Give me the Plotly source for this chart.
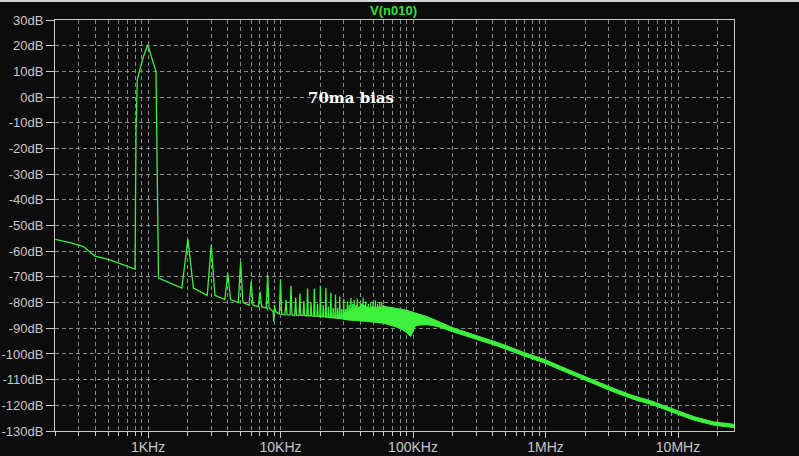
import plotly.graph_objects as go

# ---------------- data ----------------
# low-frequency skirt below the fundamental (Hz, dB)
skirt_hz = [200, 258, 325, 398, 502, 798]
skirt_db = [-55.4, -56.7, -58.2, -61.9, -63.2, -67.0]

# fundamental lobe around 1 kHz (Hz, dB)
fund_hz = [812, 830, 860, 922, 995, 1066, 1149, 1163, 1185, 1200]
fund_db = [-12.8, 6.6, 9.9, 15.7, 20.3, 15.7, 9.9, -12.5, -51.7, -70.5]

# harmonics (kHz), their peak level and the floor level next to them (dB)
harm_khz = list(range(2, 61))
harm_peak_db = [-55.3, -57.6, -68.6, -64.1, -71.9, -75.7, -69.3, -81.0, -71.0,
                -79.0, -73.5, -78.0, -76.5, -79.5, -74.5, -80.0, -74.6, -80.5,
                -73.5, -81.0, -74.2, -81.5, -76.2, -82.0, -77.0, -82.0, -77.6,
                -82.5, -78.5, -82.5, -79.5, -81.0, -78.2, -80.5, -79.0, -81.0,
                -78.5, -81.5, -80.0, -80.5, -78.0, -81.0, -79.5, -81.5, -80.5,
                -82.0, -80.0, -81.5, -79.5, -81.5, -79.2, -82.0, -80.5, -82.0,
                -80.0, -82.5, -79.8, -82.5, -81.0]
harm_floor_db = [-74.4, -77.2, -78.8, -80.0, -81.0, -81.6, -82.2, -83.5, -84.5,
                 -84.8, -84.8, -85.0, -85.0, -85.0, -85.2, -85.2, -85.3, -85.3,
                 -85.5, -85.5, -85.6, -85.7, -85.8, -85.9, -86.0, -86.1, -86.2,
                 -86.3, -86.4, -86.5, -86.6, -86.6, -86.7, -86.7, -86.8, -86.8,
                 -86.9, -86.9, -87.0, -87.0, -87.1, -87.1, -87.2, -87.2, -87.3,
                 -87.3, -87.4, -87.4, -87.5, -87.5, -87.6, -87.6, -87.7, -87.7,
                 -87.8, -87.8, -87.9, -87.9, -88.0]
harm_halfwidth_khz = 0.2

# notch near 9 kHz (Hz, dB)
notch_hz = [8900]
notch_db = [-87.5]

# dense region and high-frequency roll-off: upper / lower envelope (kHz, dB)
band_khz = [30, 40, 50, 60, 70, 80, 90, 96, 104, 110, 125, 140, 160, 200, 300,
            450, 680, 1000, 1440, 2050, 3230, 4570, 6470, 9160, 13000, 18400, 26500]
band_upper_db = [-84.0, -82.5, -82.0, -81.5, -82.0, -82.5, -83.0, -83.5, -84.0,
                 -84.5, -85.3, -86.3, -87.5, -89.8, -92.8, -95.8, -99.3, -102.3,
                 -105.8, -109.1, -113.3, -116.2, -118.5, -121.4, -124.3, -126.4, -127.4]
band_lower_db = [-86.6, -87.0, -87.5, -88.0, -89.0, -90.0, -91.8, -93.3, -89.2,
                 -88.8, -88.6, -88.9, -89.6, -91.4, -94.3, -97.2, -100.7, -103.7,
                 -107.2, -110.5, -114.7, -117.6, -119.9, -122.8, -125.7, -127.7, -128.7]

y_ticks = list(range(-130, 31, 10))
y_ticktext = [f"{v}dB" for v in y_ticks]
x_ticks = [1e3, 1e4, 1e5, 1e6, 1e7]
x_ticktext = ["1KHz", "10KHz", "100KHz", "1MHz", "10MHz"]

title_text = "V(n010)"
note_text = "70ma bias"

# ---------------- build traces ----------------
GREEN = "#3cf03c"
BG = "#0c0c0c"
GRID = "#8a8a8a"
AXIS = "#c8c8c8"

pts = list(zip(skirt_hz, skirt_db)) + list(zip(fund_hz, fund_db)) + list(zip(notch_hz, notch_db))
for k, pk, fl in zip(harm_khz, harm_peak_db, harm_floor_db):
    pts.append(((k - harm_halfwidth_khz) * 1e3, fl))
    pts.append((k * 1e3, pk))
    pts.append(((k + harm_halfwidth_khz) * 1e3, fl))
pts.sort(key=lambda p: p[0])
spec_x = [p[0] for p in pts]
spec_y = [p[1] for p in pts]

band_hz = [f * 1e3 for f in band_khz]

fig = go.Figure()
fig.add_trace(go.Scatter(x=band_hz, y=band_upper_db, mode="lines",
                         line=dict(color=GREEN, width=1), hoverinfo="skip", showlegend=False))
fig.add_trace(go.Scatter(x=band_hz, y=band_lower_db, mode="lines", fill="tonexty",
                         fillcolor=GREEN, line=dict(color=GREEN, width=1),
                         hoverinfo="skip", showlegend=False))
fig.add_trace(go.Scatter(x=spec_x, y=spec_y, mode="lines",
                         line=dict(color=GREEN, width=1.3), showlegend=False))

minor_vals = [m * 10 ** e for e in range(2, 8) for m in range(2, 10)
              if 200 <= m * 10 ** e <= 26.5e6 and m * 10 ** e not in x_ticks]

fig.update_layout(
    width=799, height=456,
    margin=dict(l=55, r=65, t=20, b=25, autoexpand=False),
    paper_bgcolor=BG, plot_bgcolor=BG,
    font=dict(family="Liberation Sans, Arial, sans-serif", size=14, color=AXIS),
    xaxis=dict(type="log", range=[2.298, 7.4226], automargin=False,
               tickvals=x_ticks, ticktext=x_ticktext,
               ticks="outside", ticklen=6, tickcolor=AXIS, tickwidth=1,
               ticklabelstandoff=-3,
               showgrid=True, gridcolor=GRID, griddash="4px,3px", gridwidth=1,
               minor=dict(tickmode="array", tickvals=minor_vals, ticks="outside",
                          ticklen=4, tickcolor=AXIS, showgrid=True,
                          gridcolor=GRID, griddash="4px,3px", gridwidth=1),
               showline=True, linecolor=AXIS, linewidth=1, mirror=True,
               zeroline=False, fixedrange=True,
               tickfont=dict(size=14, color=AXIS)),
    yaxis=dict(range=[-130, 30], tickvals=y_ticks, ticktext=y_ticktext, automargin=False,
               ticks="outside", ticklen=8, tickcolor=AXIS, tickwidth=1,
               ticklabelstandoff=0,
               showgrid=True, gridcolor=GRID, griddash="4px,3px", gridwidth=1,
               showline=True, linecolor=AXIS, linewidth=1, mirror=True,
               zeroline=False, fixedrange=True,
               tickfont=dict(size=13, color=AXIS)),
    annotations=[
        dict(text=f"<b>{title_text}</b>", xref="paper", yref="paper", x=0.4978, y=1.0219,
             xanchor="center", yanchor="middle", showarrow=False,
             font=dict(family="Liberation Sans, Arial, sans-serif", size=13, color="#33e033")),
        dict(text=f"<b>{note_text}</b>", xref="paper", yref="paper", x=0.436, y=0.810,
             xanchor="center", yanchor="middle", showarrow=False,
             font=dict(family="DejaVu Serif, serif", size=15, color="#ffffff")),
    ],
    shapes=[dict(type="line", xref="paper", yref="paper",
                 x0=-55 / 679, x1=744 / 679, y0=1 + 19 / 411, y1=1 + 19 / 411,
                 line=dict(color="#d4d4d4", width=2))],
)

fig.write_html("out.html", config={"displayModeBar": False},
               post_script="document.body.style.margin='0';document.body.style.overflow='hidden';")
